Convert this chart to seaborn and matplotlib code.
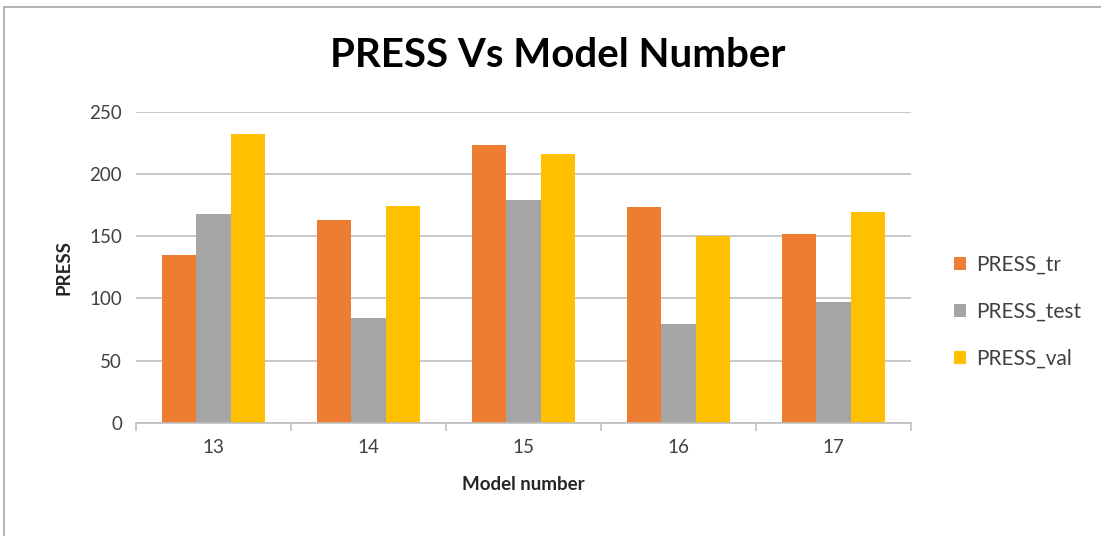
import matplotlib
matplotlib.use("Agg")
import matplotlib.pyplot as plt
from matplotlib.patches import Rectangle
from matplotlib.ticker import FixedLocator
import seaborn as sns
import pandas as pd

# PRESS values per model
models = ["13", "14", "15", "16", "17"]
press_tr = [135, 163, 223, 173, 152]
press_test = [168, 84, 179, 79, 97]
press_val = [232, 174, 216, 150, 169]
series_names = ["PRESS_tr", "PRESS_test", "PRESS_val"]
colors = ["#ED7D31", "#A5A5A5", "#FFC000"]

df = pd.DataFrame({
    "model": models * 3,
    "PRESS": press_tr + press_test + press_val,
    "series": [s for s in series_names for _ in models],
})

sns.set_theme(style="white")
plt.rcParams["font.family"] = ["Lato", "DejaVu Sans"]

fig = plt.figure(figsize=(11.01, 5.36), dpi=100)
ax = fig.add_axes([136 / 1101, 1 - 422.7 / 536, 775 / 1101, 311 / 536])

sns.barplot(data=df, x="model", y="PRESS", hue="series", order=models,
            hue_order=series_names, palette=colors, width=0.66,
            saturation=1, ax=ax, errorbar=None, linewidth=0)

ax.set_ylim(0, 250)
ax.set_xlim(-0.5, 4.5)
ax.set_yticks([0, 50, 100, 150, 200, 250])
ax.yaxis.grid(True, color="#BFBFBF", linewidth=1.2)
ax.set_axisbelow(True)
for side in ["left", "right", "top"]:
    ax.spines[side].set_visible(False)
ax.spines["bottom"].set_color("#BFBFBF")
ax.spines["bottom"].set_linewidth(1.2)

ax.tick_params(axis="y", length=0, labelsize=13.5, labelcolor="#404040", pad=10)
ax.tick_params(axis="x", which="major", length=0, labelsize=13.5,
               labelcolor="#404040", pad=12)
ax.xaxis.set_minor_locator(FixedLocator([-0.5, 0.5, 1.5, 2.5, 3.5, 4.5]))
ax.tick_params(axis="x", which="minor", length=6, width=1.2,
               color="#BFBFBF", bottom=True)

ax.set_xlabel("Model number", fontsize=13.5, fontweight="bold", labelpad=14)
ax.set_ylabel("PRESS", fontsize=13.5, fontweight="bold", labelpad=12)

fig.text(0.507, 0.897, "PRESS Vs Model Number", ha="center", va="center",
         fontsize=29, fontweight="bold", color="black")

handles, labels = ax.get_legend_handles_labels()
ax.legend(handles, labels, loc="center left", bbox_to_anchor=(1.045, 0.356),
          frameon=False, fontsize=15, handlelength=0.55, handleheight=0.55,
          handletextpad=0.5, labelspacing=1.3, labelcolor="#404040",
          borderaxespad=0)

# chart frame
fig.patches.append(Rectangle((4 / 1101, -0.1), 1.2, (536 - 7) / 536 + 0.1,
                             transform=fig.transFigure, fill=False,
                             edgecolor="#A6A6A6", linewidth=1.2))

fig.savefig("out.png", dpi=100)
